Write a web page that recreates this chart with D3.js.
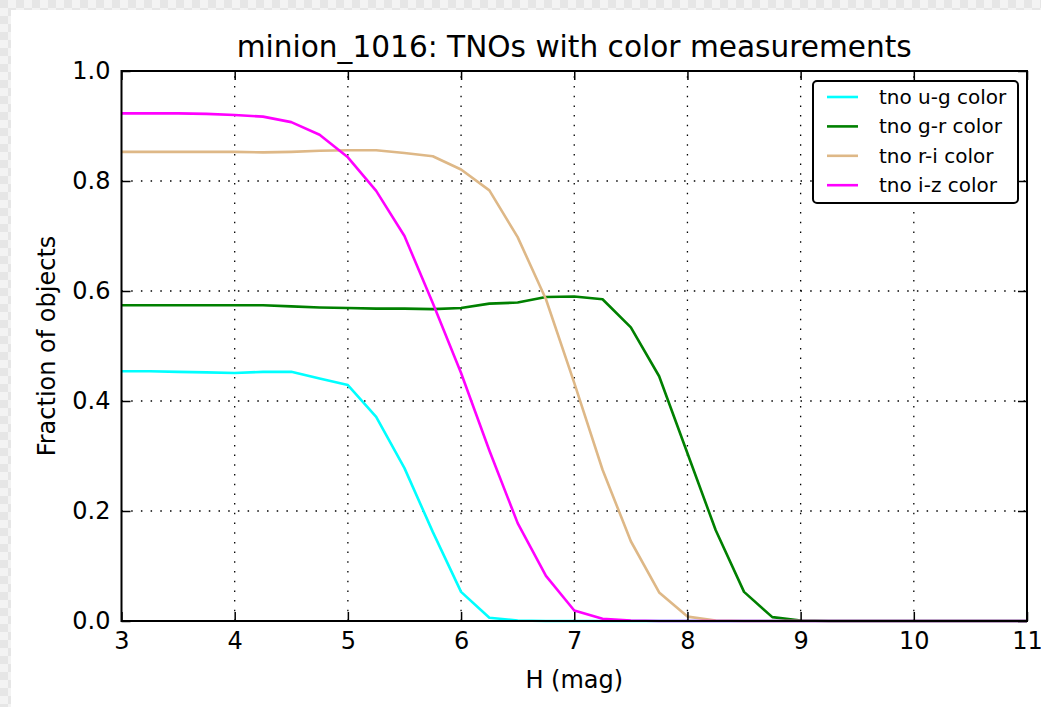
<html>
  <head>
    <meta charset="utf-8">
    <script src="https://cdn.jsdelivr.net/npm/d3@7"></script>
    <style>
      body { margin: 0; background: #fff; }
      text { font-family: "DejaVu Sans", sans-serif; fill: #000; }
    </style>
  </head>
  <body>
    <script>
      var W = 1041, H = 707;

      // H magnitude bins
      var hMag = [3, 3.25, 3.5, 3.75, 4, 4.25, 4.5, 4.75, 5, 5.25, 5.5, 5.75, 6, 6.25, 6.5, 6.75,
                  7, 7.25, 7.5, 7.75, 8, 8.25, 8.5, 8.75, 9, 9.25, 9.5, 9.75, 10, 10.25, 10.5, 10.75, 11];

      var ugColor = [0.454, 0.454, 0.453, 0.452, 0.451, 0.453, 0.453, 0.441, 0.429, 0.371, 0.278, 0.162, 0.053, 0.006, 0.001, 0,
                     0, 0, 0, 0, 0, 0, 0, 0, 0, 0, 0, 0, 0, 0, 0, 0, 0];
      var grColor = [0.574, 0.574, 0.574, 0.574, 0.574, 0.574, 0.572, 0.570, 0.569, 0.568, 0.568, 0.567, 0.569, 0.577, 0.579, 0.589,
                     0.590, 0.585, 0.534, 0.445, 0.305, 0.165, 0.053, 0.007, 0.001, 0, 0, 0, 0, 0, 0, 0, 0];
      var riColor = [0.853, 0.853, 0.853, 0.853, 0.853, 0.852, 0.853, 0.855, 0.856, 0.856, 0.851, 0.845, 0.821, 0.783, 0.698, 0.585,
                     0.433, 0.275, 0.145, 0.052, 0.008, 0.001, 0, 0, 0, 0, 0, 0, 0, 0, 0, 0, 0];
      var izColor = [0.923, 0.923, 0.923, 0.922, 0.920, 0.917, 0.907, 0.884, 0.843, 0.782, 0.700, 0.578, 0.451, 0.310, 0.178, 0.082,
                     0.019, 0.004, 0.001, 0, 0, 0, 0, 0, 0, 0, 0, 0, 0, 0, 0, 0, 0];

      var seriesNames = ["tno u-g color", "tno g-r color", "tno r-i color", "tno i-z color"];
      var seriesColors = ["#00ffff", "#008000", "#deb887", "#ff00ff"];
      var seriesValues = [ugColor, grColor, riColor, izColor];

      var xTicks = [3, 4, 5, 6, 7, 8, 9, 10, 11];
      var yTicks = [0, 0.2, 0.4, 0.6, 0.8, 1.0];

      // plot frame (pixels)
      var pLeft = 121.5, pRight = 1027, pTop = 71, pBottom = 621;

      var svg = d3.select("body").append("svg")
                  .attr("width", W)
                  .attr("height", H);

      // checkered border (transparent area of the original image)
      var pat = svg.append("defs").append("pattern")
                   .attr("id", "chk").attr("width", 16).attr("height", 16)
                   .attr("patternUnits", "userSpaceOnUse");
      pat.append("rect").attr("width", 16).attr("height", 16).attr("fill", "#f3f3f3");
      pat.append("rect").attr("width", 8).attr("height", 8).attr("fill", "#e6e6e6");
      pat.append("rect").attr("x", 8).attr("y", 8).attr("width", 8).attr("height", 8).attr("fill", "#e6e6e6");
      svg.append("rect").attr("width", W).attr("height", H).attr("fill", "url(#chk)");
      svg.append("rect").attr("x", 11).attr("y", 10).attr("width", W - 11).attr("height", H - 10).attr("fill", "#fff");

      var x = d3.scaleLinear().domain([3, 11]).range([pLeft, pRight]);
      var y = d3.scaleLinear().domain([0, 1]).range([pBottom, pTop]);

      // grid
      var grid = svg.append("g").attr("stroke", "#000").attr("stroke-width", 1.3)
                    .attr("stroke-dasharray", "1.5,8.2");
      grid.selectAll("line.gx").data(xTicks.slice(1, -1)).enter().append("line")
          .attr("x1", function(d) { return x(d); }).attr("x2", function(d) { return x(d); })
          .attr("y1", pBottom).attr("y2", pTop);
      grid.selectAll("line.gy").data(yTicks.slice(1, -1)).enter().append("line")
          .attr("y1", function(d) { return y(d); }).attr("y2", function(d) { return y(d); })
          .attr("x1", pLeft).attr("x2", pRight);

      // series lines
      var line = d3.line()
                   .x(function(d) { return x(d[0]); })
                   .y(function(d) { return y(d[1]); });

      seriesValues.forEach(function(vals, i) {
        svg.append("path")
           .attr("d", line(hMag.map(function(h, j) { return [h, vals[j]]; })))
           .attr("fill", "none")
           .attr("stroke", seriesColors[i])
           .attr("stroke-width", 2.6)
           .attr("stroke-linejoin", "round");
      });

      // axes (ticks pointing inwards, on all four sides)
      var tk = 9;
      svg.append("g").attr("transform", "translate(0," + pBottom + ")")
         .call(d3.axisBottom(x).tickValues(xTicks).tickSize(-tk).tickPadding(11).tickFormat(d3.format("d")))
         .call(function(g) { g.select(".domain").remove(); });
      svg.append("g").attr("transform", "translate(0," + pTop + ")")
         .call(d3.axisTop(x).tickValues(xTicks).tickSize(-tk).tickFormat(""))
         .call(function(g) { g.select(".domain").remove(); });
      svg.append("g").attr("transform", "translate(" + pLeft + ",0)")
         .call(d3.axisLeft(y).tickValues(yTicks).tickSize(-tk).tickPadding(11).tickFormat(d3.format(".1f")))
         .call(function(g) { g.select(".domain").remove(); });
      svg.append("g").attr("transform", "translate(" + pRight + ",0)")
         .call(d3.axisRight(y).tickValues(yTicks).tickSize(-tk).tickFormat(""))
         .call(function(g) { g.select(".domain").remove(); });

      svg.selectAll(".tick line").attr("stroke", "#000").attr("stroke-width", 1.5);
      svg.selectAll(".tick text").style("font-size", "24px").style("font-family", "DejaVu Sans");

      svg.append("rect")
         .attr("x", pLeft).attr("y", pTop)
         .attr("width", pRight - pLeft).attr("height", pBottom - pTop)
         .attr("fill", "none").attr("stroke", "#000").attr("stroke-width", 2);

      // titles
      svg.append("text").attr("x", (pLeft + pRight) / 2).attr("y", 57)
         .attr("text-anchor", "middle").style("font-size", "29.6px")
         .text("minion_1016: TNOs with color measurements");
      svg.append("text").attr("x", (pLeft + pRight) / 2).attr("y", 688)
         .attr("text-anchor", "middle").style("font-size", "24px")
         .text("H (mag)");
      svg.append("text").attr("transform", "translate(55," + ((pTop + pBottom) / 2) + ") rotate(-90)")
         .attr("text-anchor", "middle").style("font-size", "24px")
         .text("Fraction of objects");

      // legend
      var lg = svg.append("g").attr("transform", "translate(813,81)");
      lg.append("rect").attr("width", 205).attr("height", 122).attr("rx", 4)
        .attr("fill", "#fff").attr("stroke", "#000").attr("stroke-width", 2);
      seriesNames.forEach(function(name, i) {
        var yy = 16 + i * 29.4;
        lg.append("line").attr("x1", 14).attr("x2", 45).attr("y1", yy).attr("y2", yy)
          .attr("stroke", seriesColors[i]).attr("stroke-width", 2.6);
        lg.append("text").attr("x", 66).attr("y", yy + 7).style("font-size", "20px").text(name);
      });
    </script>
  </body>
</html>
